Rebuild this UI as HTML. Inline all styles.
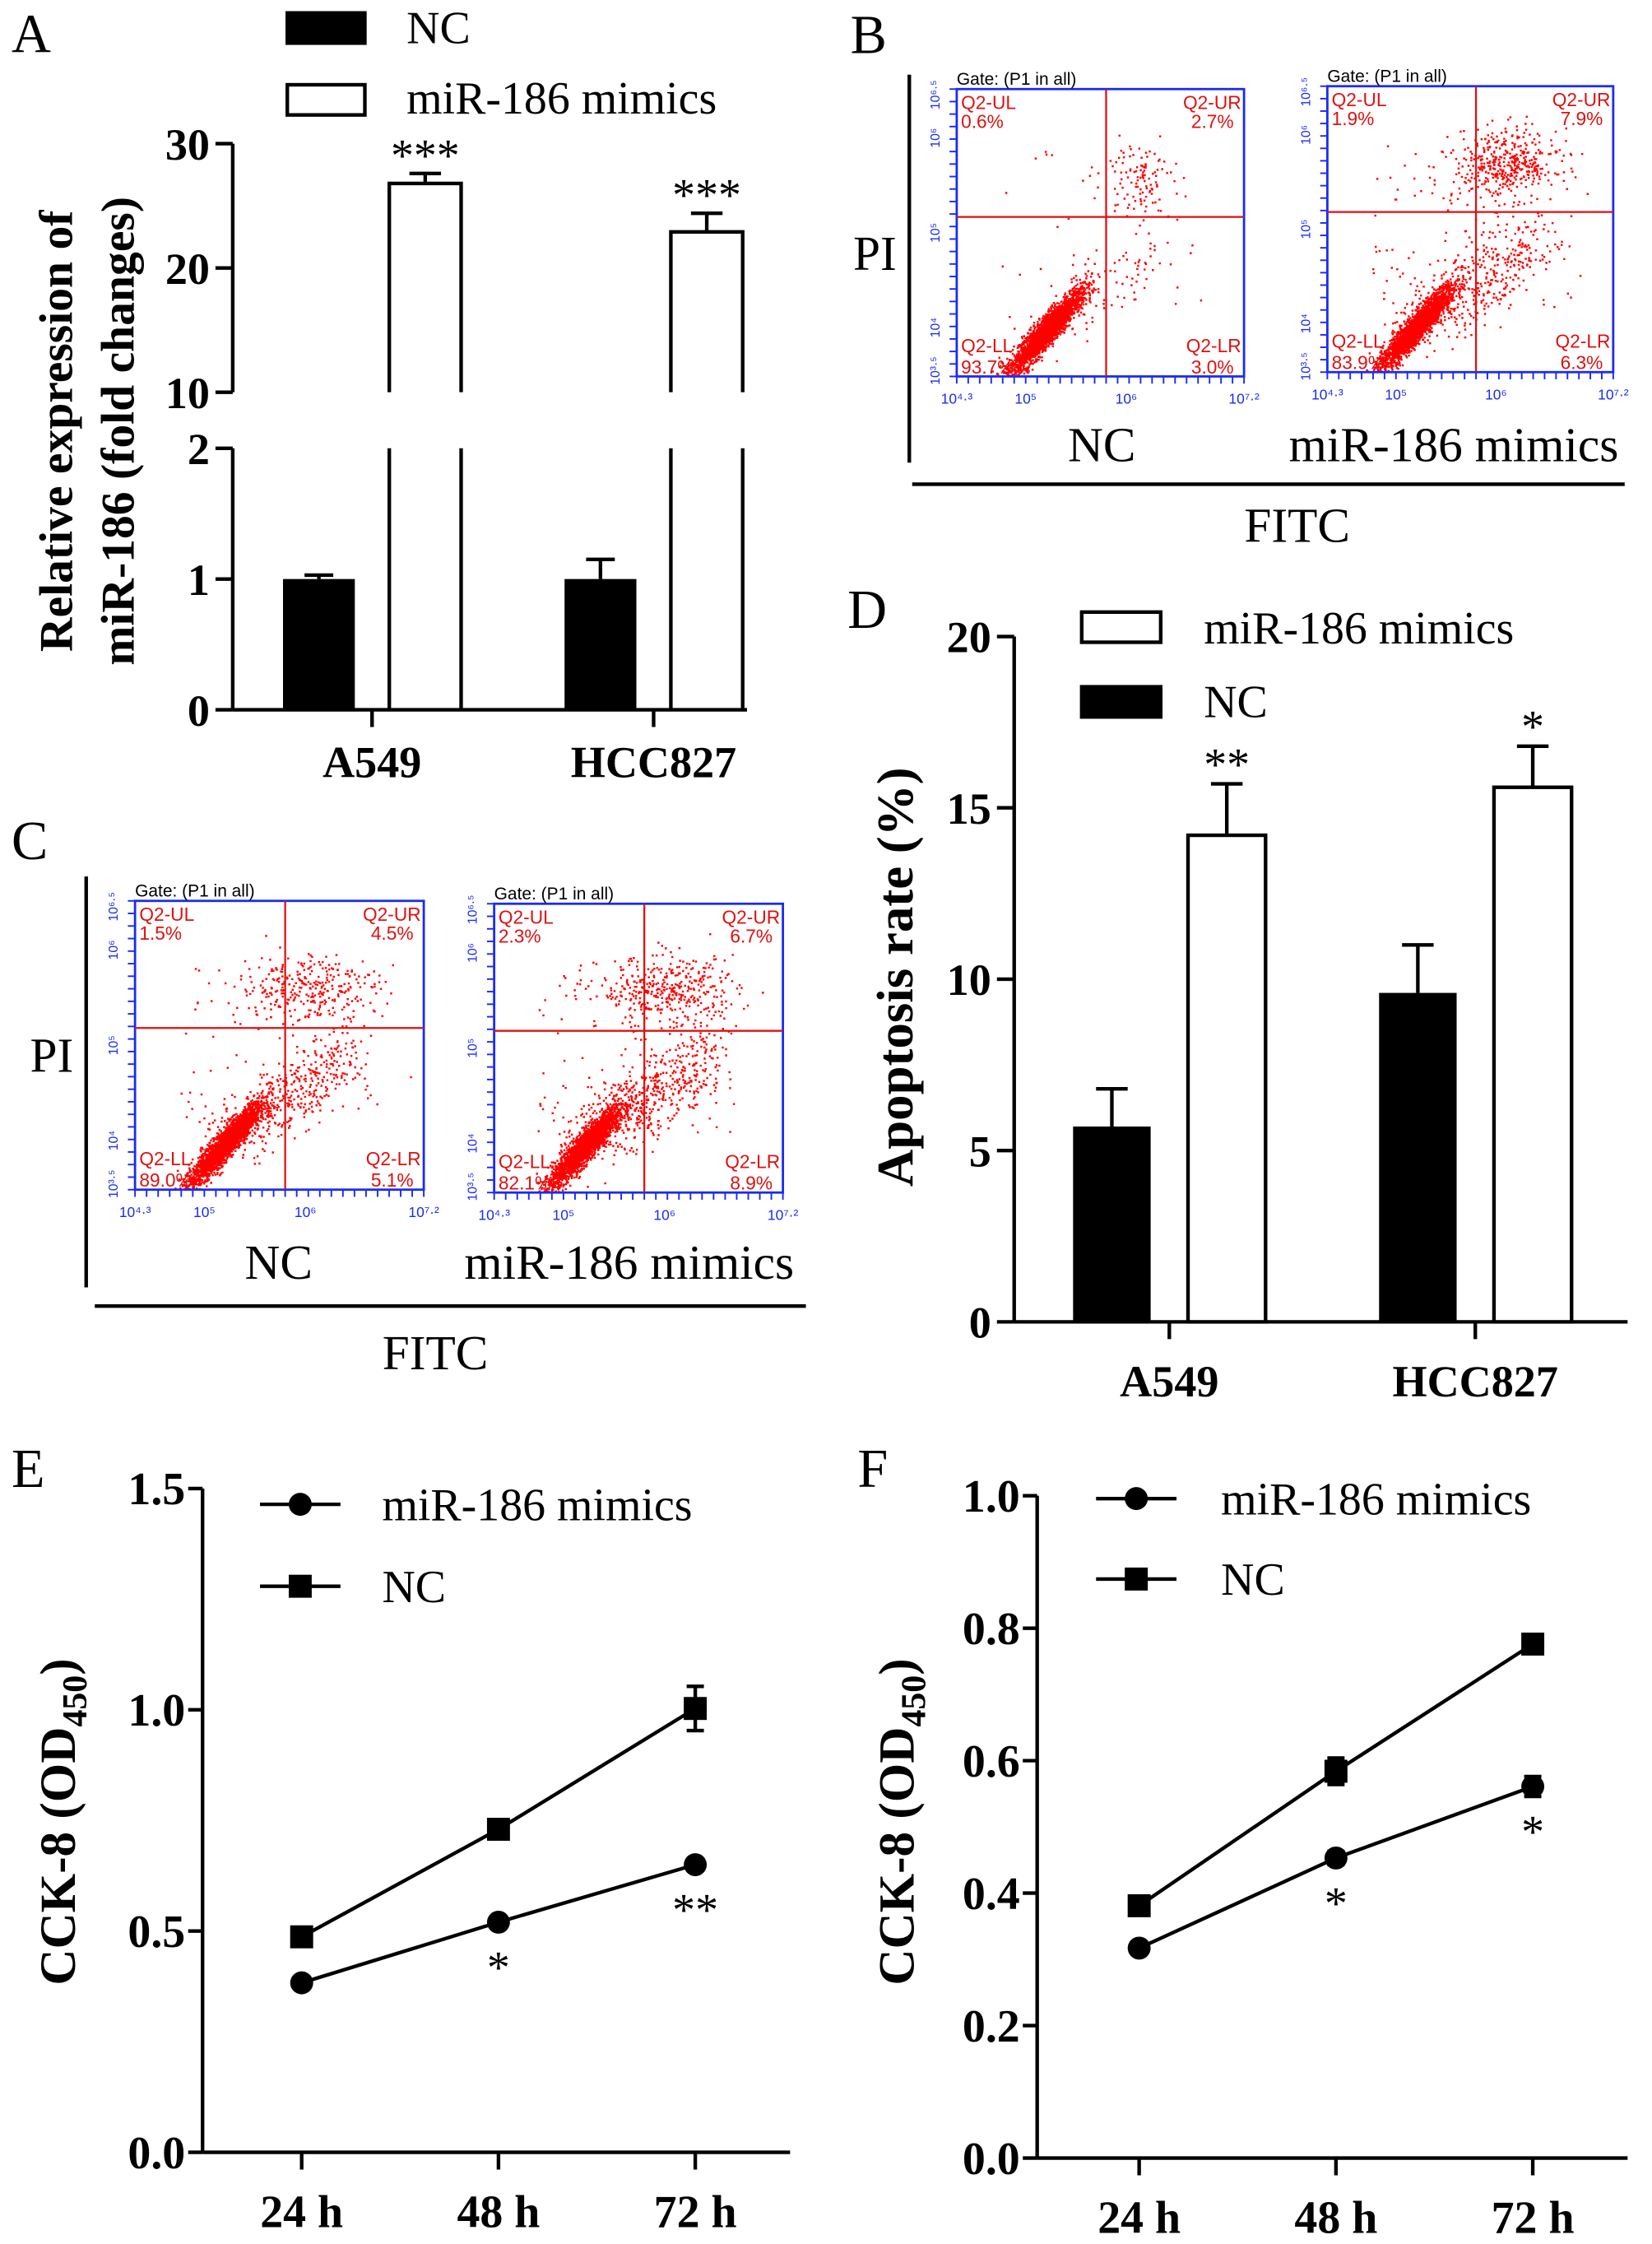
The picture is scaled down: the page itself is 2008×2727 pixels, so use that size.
<!DOCTYPE html>
<html><head><meta charset="utf-8">
<style>
html,body{margin:0;padding:0;background:#fff;}
svg{display:block;}
</style></head>
<body>
<svg id="fig" width="2008" height="2727" viewBox="0 0 1150 1561.8" preserveAspectRatio="none" xmlns="http://www.w3.org/2000/svg">
<g id="panelA"></g>
<g id="panelB"></g>
<g id="panelC"></g>
<g id="panelD"></g>
<g id="panelE"></g>
<g id="panelF"></g>
</svg>
<script>
// ---- Panel A data ----
var aCategories = ["A549", "HCC827"];
var aNC = [1.0, 1.0];
var aNCerr = [0.03, 0.15];
var aMimic = [26.8, 22.9];
var aMimicErr = [0.8, 1.5];
var aStars = ["***", "***"];
var aUpperTicks = [10, 20, 30];
var aLowerTicks = [0, 1, 2];
// ---- Panel D data ----
var dCategories = ["A549", "HCC827"];
var dNC = [5.7, 9.6];
var dNCerr = [1.1, 1.4];
var dMimic = [14.2, 15.6];
var dMimicErr = [1.5, 1.2];
var dStars = ["**", "*"];
var dTicks = [0, 5, 10, 15, 20];
// ---- Panel E data ----
var eTimes = ["24 h", "48 h", "72 h"];
var eNC = [0.487, 0.73, 1.003];
var eNCerr = [0.02, 0.015, 0.05];
var eMimic = [0.383, 0.52, 0.65];
var eMimicErr = [0.01, 0.01, 0.01];
var eStars = ["", "*", "**"];
var eTicks = ["0.0", "0.5", "1.0", "1.5"];
// ---- Panel F data ----
var fTimes = ["24 h", "48 h", "72 h"];
var fNC = [0.381, 0.584, 0.776];
var fNCerr = [0.01, 0.02, 0.012];
var fMimic = [0.317, 0.453, 0.561];
var fMimicErr = [0.008, 0.01, 0.015];
var fStars = ["", "*", "*"];
var fTicks = ["0.0", "0.2", "0.4", "0.6", "0.8", "1.0"];
// ---- Flow cytometry quadrant percentages ----
var flowB_NC = ["0.6%", "2.7%", "93.7%", "3.0%"];
var flowB_M = ["1.9%", "7.9%", "83.9%", "6.3%"];
var flowC_NC = ["1.5%", "4.5%", "89.0%", "5.1%"];
var flowC_M = ["2.3%", "6.7%", "82.1%", "8.9%"];

var NS = "http://www.w3.org/2000/svg";
function mk(parent, tag, attrs, text) {
  var e = document.createElementNS(NS, tag);
  for (var k in attrs) e.setAttribute(k, attrs[k]);
  if (text !== undefined) e.textContent = text;
  parent.appendChild(e);
  return e;
}
function line(p, x1, y1, x2, y2, w, c, name) {
  var e = mk(p, "line", {x1: x1, y1: y1, x2: x2, y2: y2, stroke: c || "#000", "stroke-width": w || 2.5});
  
  
  return e;
}
function txt(p, x, y, s, size, opts, name) {
  opts = opts || {};
  var e = mk(p, "text", {x: x, y: y, "font-size": size, "text-anchor": opts.anchor || "start",
    "font-family": opts.family || '"Liberation Serif", serif', "font-weight": opts.bold ? "bold" : "normal",
    fill: opts.fill || "#000"}, s);
  if (opts.transform) e.setAttribute("transform", opts.transform);
  
  
  return e;
}
function rect(p, x, y, w, h, fill, name) {
  var e = mk(p, "rect", {x: x, y: y, width: w, height: h, fill: fill, stroke: "#000", "stroke-width": 2.5});
  
  
  return e;
}

// ================= PANEL A =================
(function () {
  var g = document.getElementById("panelA");
  txt(g, 8, 36, "A", 38, {}, "panel-label-a");
  rect(g, 200, 9, 54, 21, "#000", "legend-swatch-nc");
  txt(g, 283, 30, "NC", 32, {}, "legend-label-nc");
  rect(g, 200, 59, 54, 21, "#fff", "legend-swatch-mimics");
  txt(g, 283, 79, "miR-186 mimics", 32, {}, "legend-label-mimics");
  var ax = 162, y0 = 494;
  function yLow(v) { return 494 - v * 91; }
  function yUp(v) { return 273 - (v - 10) * 8.65; }
  var lowTop = yLow(2);
  line(g, ax, yUp(30), ax, yUp(10), 2.5, "#000", "y-axis-upper");
  line(g, ax, lowTop, ax, y0, 2.5, "#000", "y-axis-lower");
  line(g, ax, y0, 520, y0, 2.5, "#000", "x-axis");
  aUpperTicks.forEach(function (t) {
    line(g, ax - 12, yUp(t), ax, yUp(t), 2.5, "#000", "y-tick");
    txt(g, ax - 16, yUp(t) + 11, String(t), 31, {anchor: "end", bold: true}, "y-tick-label");
  });
  aLowerTicks.forEach(function (t) {
    line(g, ax - 12, yLow(t), ax, yLow(t), 2.5, "#000", "y-tick");
    txt(g, ax - 16, yLow(t) + 11, String(t), 31, {anchor: "end", bold: true}, "y-tick-label");
  });
  var centers = [259, 455];
  aCategories.forEach(function (c, i) {
    var cx = centers[i];
    line(g, cx, y0, cx, y0 + 12, 2.5, "#000", "x-tick");
    txt(g, cx, 541, c, 31, {anchor: "middle", bold: true}, "x-tick-label");
    var nx = cx - 62, bw = 50;
    var ny = yLow(aNC[i]);
    var ey = yLow(aNC[i] + aNCerr[i]);
    line(g, nx + bw / 2, ny, nx + bw / 2, ey, 2.5, "#000", "error-bar-nc");
    line(g, nx + bw / 2 - 10, ey, nx + bw / 2 + 10, ey, 2.5, "#000", "error-cap-nc");
    var r = mk(g, "rect", {x: nx, y: ny, width: bw, height: y0 - ny, fill: "#000"});
    
    
    var mx = cx + 12;
    var my = yUp(aMimic[i]);
    var mey = yUp(aMimic[i] + aMimicErr[i]);
    line(g, mx + bw / 2, my, mx + bw / 2, mey, 2.5, "#000", "error-bar-mimics");
    line(g, mx + bw / 2 - 11, mey, mx + bw / 2 + 11, mey, 2.5, "#000", "error-cap-mimics");
    var pth = mk(g, "path", {d: "M" + mx + "," + yUp(10) + " L" + mx + "," + my + " L" + (mx + bw) + "," + my + " L" + (mx + bw) + "," + yUp(10) +
      " M" + mx + "," + lowTop + " L" + mx + "," + y0 + " M" + (mx + bw) + "," + lowTop + " L" + (mx + bw) + "," + y0,
      fill: "none", stroke: "#000", "stroke-width": 2.5});
    
    
    txt(g, mx + bw / 2, mey - 2, aStars[i], 32, {anchor: "middle"}, "significance-stars");
  });
  txt(g, 50, 300, "Relative expression of", 33, {anchor: "middle", bold: true, transform: "rotate(-90 50 300)"}, "y-axis-title-line1");
  txt(g, 93, 300, "miR-186  (fold changes)", 33, {anchor: "middle", bold: true, transform: "rotate(-90 93 300)"}, "y-axis-title-line2");
})();

// ================= FLOW PLOTS =================
var seed = 12345;
function rnd() { seed = (seed * 1103515245 + 12345) % 2147483648; return seed / 2147483648; }
function gauss() { var u = rnd() || 1e-6, v = rnd(); return Math.sqrt(-2 * Math.log(u)) * Math.cos(2 * Math.PI * v); }
function flowPlot(g, x0, y0, x1, y1, cx, cy, pcts, nMain, nTail, nUR, urc, name) {
  var w = x1 - x0, h = y1 - y0;
  var pg = mk(g, "g", {});
  
  
  var d = "";
  function dot(fx, fy) {
    if (fx < 0.005 || fx > 0.995 || fy < 0.005 || fy > 0.995) return;
    var px = x0 + fx * w, py = y1 - fy * h;
    d += "M" + px.toFixed(1) + "," + py.toFixed(1) + "h1.4v1.4h-1.4z";
  }
  for (var i = 0; i < nMain; i++) {
    var a = gauss(), b = gauss();
    dot(0.31 + 0.06 * a + 0.018 * b, 0.16 + 0.055 * a + 0.045 * b);
  }
  for (var i = 0; i < nTail; i++) {
    var t = rnd();
    dot(0.32 + t * 0.42 + 0.06 * gauss(), 0.18 + t * 0.3 + 0.06 * gauss());
  }
  for (var i = 0; i < nUR; i++) {
    dot(urc[0] + urc[2] * gauss(), urc[1] + 0.06 * gauss());
  }
  for (var i = 0; i < nUR / 4; i++) {
    dot(0.15 + rnd() * 0.7, 0.2 + rnd() * 0.6);
  }
  var dp = mk(pg, "path", {d: d, fill: "#f00"});
  
  
  var fr = mk(pg, "rect", {x: x0, y: y0, width: w, height: h, fill: "none", stroke: "#1a2cf0", "stroke-width": 1.6});
  
  
  line(pg, x0 + cx * w, y0, x0 + cx * w, y1, 1.3, "#e01010", "quadrant-vertical");
  line(pg, x0, y0 + cy * h, x1, y0 + cy * h, 1.3, "#e01010", "quadrant-horizontal");
  for (var k = 0; k < 24; k++) {
    var ty = y1 - k * h / 23;
    line(pg, x0 - 5, ty, x0, ty, 1.1, "#1a2cf0", "y-tick");
  }
  for (var k = 0; k < 26; k++) {
    var tx = x0 + k * w / 25;
    line(pg, tx, y1, tx, y1 + 5, 1.1, "#1a2cf0", "x-tick");
  }
  var yl = ["10\u00b3\u00b7\u2075", "10\u2074", "10\u2075", "10\u2076", "10\u2076\u00b7\u2075"];
  var ylp = [0.02, 0.17, 0.5, 0.83, 0.98];
  yl.forEach(function (s, k) {
    var ty = y1 - ylp[k] * h;
    txt(pg, x0 - 12, ty, s, 9, {family: '"Liberation Sans", sans-serif', fill: "#1a2cf0", anchor: "middle", transform: "rotate(-90 " + (x0 - 12) + " " + ty + ")"}, "y-tick-label");
  });
  var xl = ["10\u2074\u00b7\u00b3", "10\u2075", "10\u2076", "10\u2077\u00b7\u00b2"];
  var xlp = [0.0, 0.24, 0.59, 1.0];
  xl.forEach(function (s, k) {
    txt(pg, x0 + xlp[k] * w, y1 + 19, s, 10, {family: '"Liberation Sans", sans-serif', fill: "#1a2cf0", anchor: "middle"}, "x-tick-label");
  });
  txt(pg, x0, y0 - 3, "Gate: (P1 in all)", 12, {family: '"Liberation Sans", sans-serif'}, "gate-label");
  var sf = '"Liberation Sans", sans-serif', rf = "#e01010";
  txt(pg, x0 + 3, y0 + 14, "Q2-UL", 13, {family: sf, fill: rf}, "quadrant-ul-name");
  txt(pg, x0 + 3, y0 + 27, pcts[0], 13, {family: sf, fill: rf}, "quadrant-ul-pct");
  txt(pg, x1 - 2, y0 + 14, "Q2-UR", 13, {family: sf, fill: rf, anchor: "end"}, "quadrant-ur-name");
  txt(pg, x1 - 22, y0 + 27, pcts[1], 13, {family: sf, fill: rf, anchor: "middle"}, "quadrant-ur-pct");
  txt(pg, x0 + 3, y1 - 17, "Q2-LL", 13, {family: sf, fill: rf}, "quadrant-ll-name");
  txt(pg, x0 + 3, y1 - 2, pcts[2], 13, {family: sf, fill: rf}, "quadrant-ll-pct");
  txt(pg, x1 - 2, y1 - 17, "Q2-LR", 13, {family: sf, fill: rf, anchor: "end"}, "quadrant-lr-name");
  txt(pg, x1 - 22, y1 - 2, pcts[3], 13, {family: sf, fill: rf, anchor: "middle"}, "quadrant-lr-pct");
}

// ================= PANEL B =================
(function () {
  var g = document.getElementById("panelB");
  txt(g, 592, 37, "B", 38, {}, "panel-label-b");
  line(g, 633, 52, 633, 322, 2.5, "#000", "pi-axis-line");
  line(g, 635, 337, 1131, 337, 2.5, "#000", "fitc-axis-line");
  txt(g, 609, 188, "PI", 34, {anchor: "middle"}, "y-axis-title-pi");
  flowPlot(g, 666, 62, 866, 262, 0.52, 0.445, flowB_NC, 2600, 90, 110, [0.63, 0.7, 0.06], "flow-plot-b-nc");
  flowPlot(g, 924, 60, 1123, 259, 0.52, 0.44, flowB_M, 2300, 380, 420, [0.62, 0.73, 0.09], "flow-plot-b-mimics");
  txt(g, 767, 321, "NC", 34, {anchor: "middle"}, "plot-label-nc");
  txt(g, 1012, 321, "miR-186 mimics", 34, {anchor: "middle"}, "plot-label-mimics");
  txt(g, 903, 377, "FITC", 34, {anchor: "middle"}, "x-axis-title-fitc");
})();

// ================= PANEL C =================
(function () {
  var g = document.getElementById("panelC");
  txt(g, 8, 598, "C", 38, {}, "panel-label-c");
  line(g, 60, 610, 60, 896, 2.5, "#000", "pi-axis-line");
  line(g, 66, 909, 561, 909, 2.5, "#000", "fitc-axis-line");
  txt(g, 36, 746, "PI", 34, {anchor: "middle"}, "y-axis-title-pi");
  flowPlot(g, 94, 627, 295, 828, 0.52, 0.44, flowC_NC, 2400, 420, 300, [0.6, 0.7, 0.12], "flow-plot-c-nc");
  flowPlot(g, 344, 629, 545, 830, 0.52, 0.44, flowC_M, 2300, 560, 380, [0.6, 0.7, 0.12], "flow-plot-c-mimics");
  txt(g, 194, 890, "NC", 34, {anchor: "middle"}, "plot-label-nc");
  txt(g, 438, 890, "miR-186 mimics", 34, {anchor: "middle"}, "plot-label-mimics");
  txt(g, 303, 953, "FITC", 34, {anchor: "middle"}, "x-axis-title-fitc");
})();

// ================= PANEL D =================
(function () {
  var g = document.getElementById("panelD");
  txt(g, 590, 437, "D", 38, {}, "panel-label-d");
  var ax = 706, y0 = 920;
  function y(v) { return y0 - v * 23.85; }
  line(g, ax, y(20), ax, y0, 2.5, "#000", "y-axis");
  line(g, ax, y0, 1133, y0, 2.5, "#000", "x-axis");
  dTicks.forEach(function (t) {
    line(g, ax - 12, y(t), ax, y(t), 2.5, "#000", "y-tick");
    txt(g, ax - 16, y(t) + 11, String(t), 31, {anchor: "end", bold: true}, "y-tick-label");
  });
  var centers = [814, 1027];
  var ncx = [747, 960], mcx = [827, 1040], bw = 54;
  dCategories.forEach(function (c, i) {
    var cx = centers[i];
    line(g, cx, y0, cx, y0 + 12, 2.5, "#000", "x-tick");
    txt(g, cx, 972, c, 31, {anchor: "middle", bold: true}, "x-tick-label");
    var nx = ncx[i], ny = y(dNC[i]), ey = y(dNC[i] + dNCerr[i]);
    line(g, nx + bw / 2, ny, nx + bw / 2, ey, 2.5, "#000", "error-bar-nc");
    line(g, nx + bw / 2 - 11, ey, nx + bw / 2 + 11, ey, 2.5, "#000", "error-cap-nc");
    var r = mk(g, "rect", {x: nx, y: ny, width: bw, height: y0 - ny, fill: "#000"});
    
    
    var mx = mcx[i], my = y(dMimic[i]), mey = y(dMimic[i] + dMimicErr[i]);
    line(g, mx + bw / 2, my, mx + bw / 2, mey, 2.5, "#000", "error-bar-mimics");
    line(g, mx + bw / 2 - 11, mey, mx + bw / 2 + 11, mey, 2.5, "#000", "error-cap-mimics");
    rect(g, mx, my, bw, y0 - my, "#fff", "bar-mimics-" + c.toLowerCase());
    txt(g, mx + bw / 2, mey - 3, dStars[i], 32, {anchor: "middle"}, "significance-stars");
  });
  rect(g, 753, 426, 55, 21, "#fff", "legend-swatch-mimics");
  txt(g, 838, 448, "miR-186 mimics", 32, {}, "legend-label-mimics");
  rect(g, 753, 478, 55, 21, "#000", "legend-swatch-nc");
  txt(g, 838, 499, "NC", 32, {}, "legend-label-nc");
  txt(g, 635, 680, "Apoptosis rate (%)", 36, {anchor: "middle", bold: true, transform: "rotate(-90 635 680)"}, "y-axis-title");
})();

// ================= LINE PANELS =================
function linePanel(g, cfg) {
  var ax = cfg.ax, y0 = cfg.y0, ytop = cfg.ytop, vmax = cfg.vmax;
  function y(v) { return y0 - v / vmax * (y0 - ytop); }
  function x(i) { return cfg.xs[0] + i * (cfg.xs[1] - cfg.xs[0]); }
  line(g, ax, ytop, ax, y0, 2.5, "#000", "y-axis");
  line(g, ax, y0, cfg.xend, y0, 2.5, "#000", "x-axis");
  cfg.ticks.forEach(function (t) {
    var v = parseFloat(t);
    line(g, ax - 10, y(v), ax, y(v), 2.5, "#000", "y-tick");
    txt(g, ax - 12, y(v) + 11, t, 32, {anchor: "end", bold: true}, "y-tick-label");
  });
  cfg.times.forEach(function (t, i) {
    line(g, x(i), y0, x(i), y0 + 12, 2.5, "#000", "x-tick");
    txt(g, x(i), y0 + 52, t, 32, {anchor: "middle", bold: true}, "x-tick-label");
  });
  function series(vals, errs, shape, nm) {
    var d = vals.map(function (v, i) { return (i ? "L" : "M") + x(i) + "," + y(v); }).join(" ");
    var p = mk(g, "path", {d: d, fill: "none", stroke: "#000", "stroke-width": 2.5});
    
    
    vals.forEach(function (v, i) {
      var e1 = y(v + errs[i]), e2 = y(v - errs[i]);
      line(g, x(i), e1, x(i), e2, 2.5, "#000", "error-bar-" + nm);
      line(g, x(i) - 6, e1, x(i) + 6, e1, 2.5, "#000", "error-cap-" + nm);
      line(g, x(i) - 6, e2, x(i) + 6, e2, 2.5, "#000", "error-cap-" + nm);
      var m;
      if (shape === "circle") m = mk(g, "circle", {cx: x(i), cy: y(v), r: 8, fill: "#000"});
      else m = mk(g, "rect", {x: x(i) - 8, y: y(v) - 8, width: 16, height: 16, fill: "#000"});
      
      
    });
  }
  series(cfg.nc, cfg.ncErr, "square", "nc");
  series(cfg.mimic, cfg.mimicErr, "circle", "mimics");
  cfg.stars.forEach(function (s, i) {
    if (s) txt(g, x(i), y(cfg.mimic[i]) + cfg.starOff, s, 32, {anchor: "middle"}, "significance-stars");
  });
  var lg = cfg.leg;
  line(g, lg.x1, lg.y1, lg.x2, lg.y1, 2.5, "#000", "legend-line-mimics");
  var c = mk(g, "circle", {cx: (lg.x1 + lg.x2) / 2, cy: lg.y1, r: 8, fill: "#000"});
  
  
  txt(g, lg.tx, lg.y1 + 11, "miR-186 mimics", 32, {}, "legend-label-mimics");
  line(g, lg.x1, lg.y2, lg.x2, lg.y2, 2.5, "#000", "legend-line-nc");
  var s = mk(g, "rect", {x: (lg.x1 + lg.x2) / 2 - 8, y: lg.y2 - 8, width: 16, height: 16, fill: "#000"});
  
  
  txt(g, lg.tx, lg.y2 + 11, "NC", 32, {}, "legend-label-nc");
  var tt = mk(g, "text", {x: cfg.tx, y: cfg.ty, "font-size": 35, "font-weight": "bold", "text-anchor": "middle",
    "font-family": '"Liberation Serif", serif', transform: "rotate(-90 " + cfg.tx + " " + cfg.ty + ")"});
  
  
  tt.appendChild(document.createTextNode("CCK-8 (OD"));
  mk(tt, "tspan", {"font-size": 24, dy: 8}, "450");
  mk(tt, "tspan", {dy: -8}, ")");
}

linePanel(document.getElementById("panelE"), {
  ax: 141, y0: 1498, ytop: 1036, vmax: 1.5, xend: 550, xs: [210, 347],
  ticks: eTicks, times: eTimes, nc: eNC, ncErr: eNCerr, mimic: eMimic, mimicErr: eMimicErr,
  stars: eStars, starOff: 42,
  leg: {x1: 181, x2: 237, y1: 1047, y2: 1104, tx: 266}, tx: 52, ty: 1268
});
txt(document.getElementById("panelE"), 8, 1035, "E", 38, {}, "panel-label-e");
linePanel(document.getElementById("panelF"), {
  ax: 722, y0: 1502, ytop: 1041, vmax: 1.0, xend: 1133, xs: [793, 930],
  ticks: fTicks, times: fTimes, nc: fNC, ncErr: fNCerr, mimic: fMimic, mimicErr: fMimicErr,
  stars: fStars, starOff: 42,
  leg: {x1: 763, x2: 819, y1: 1043, y2: 1099, tx: 850}, tx: 636, ty: 1268
});
txt(document.getElementById("panelF"), 597, 1035, "F", 38, {}, "panel-label-f");
</script>
</body></html>
